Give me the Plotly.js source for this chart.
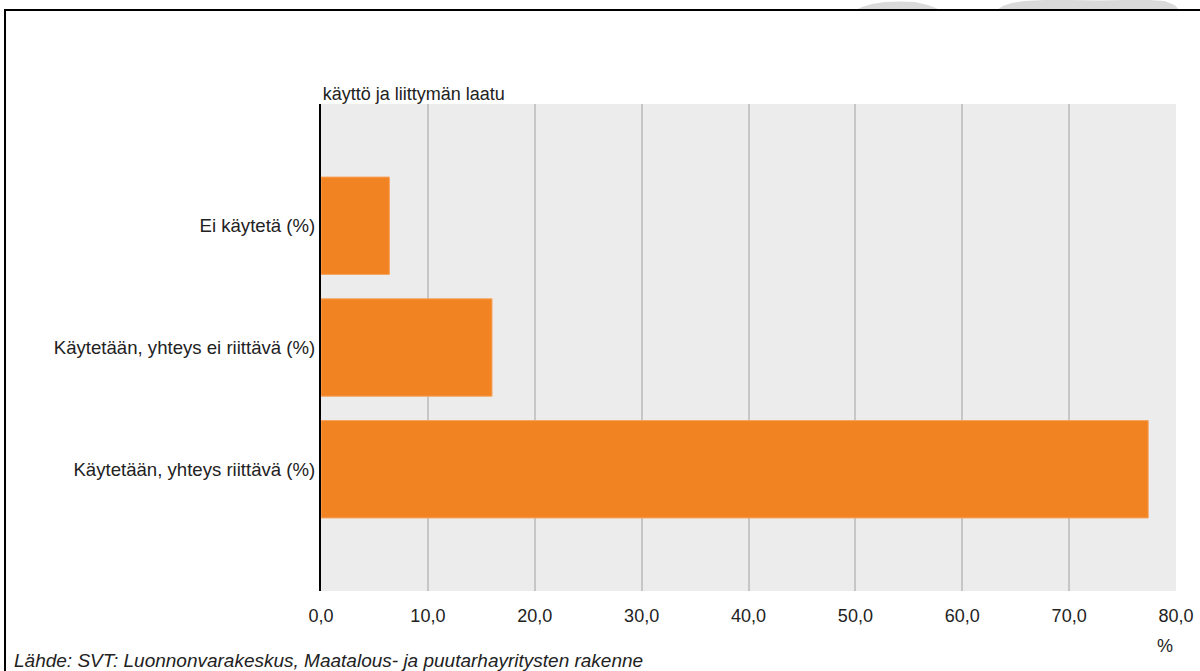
<!DOCTYPE html>
<html>
<head>
<meta charset="utf-8">
<script src="https://cdn.plot.ly/plotly-3.0.1.min.js"></script>
<style>
  html, body { margin: 0; padding: 0; background: #ffffff; overflow: hidden; }
  #wrap { position: relative; width: 1200px; height: 671px; overflow: hidden; }
  #chart { position: absolute; left: 0; top: 0; width: 1200px; height: 671px; }
  #frame { position: absolute; left: 4px; top: 9px; width: 1300px; height: 800px;
           border-top: 2px solid #000; border-left: 2px solid #000; pointer-events: none; }
</style>
</head>
<body>
<div id="wrap">
  <div id="chart"></div>
  <div id="frame"></div>
</div>
<script>
// Data
const categories = [
  "Käytetään, yhteys riittävä (%)",
  "Käytetään, yhteys ei riittävä (%)",
  "Ei käytetä (%)"
];
const values = [77.4, 16.0, 6.4];
const xTickValues = [0, 10, 20, 30, 40, 50, 60, 70, 80];
const chartTitle = "käyttö ja liittymän laatu";
const unitLabel = "%";
const sourceText = "Lähde: SVT: Luonnonvarakeskus, Maatalous- ja puutarhayritysten rakenne";

// Layout geometry (pixels)
const W = 1200, H = 671;
const M = { l: 320.5, r: 23.5, t: 104, b: 80 };
const plotW = W - M.l - M.r, plotH = H - M.t - M.b;
const px = x => (x - M.l) / plotW;           // pixel x -> paper x
const py = y => (H - M.b - y) / plotH;       // pixel y -> paper y

const FONT = "Liberation Sans, Arial, sans-serif";
const TXT = "#222222";

const trace = {
  type: "bar",
  orientation: "h",
  y: categories,
  x: values,
  marker: { color: "#f28322", line: { color: "#f6a460", width: 1 } },
  hoverinfo: "x+y"
};

function blobPath(pts) {
  let s = "M" + px(pts[0][0]) + "," + py(pts[0][1]);
  for (let i = 1; i < pts.length; i++) s += " L" + px(pts[i][0]) + "," + py(pts[i][1]);
  return s + " Z";
}
const blob1 = [[856,10],[862,7],[872,4],[885,2],[900,1.5],[915,2],[928,5],[936,8],[940,10]];
const blob2 = [[997,10],[1003,6],[1012,3],[1025,1],[1045,0],[1070,0],[1100,0.5],[1125,0],[1150,0],[1165,1],[1175,5],[1180,10]];

const layout = {
  width: W, height: H,
  margin: M,
  paper_bgcolor: "#ffffff",
  plot_bgcolor: "#ececec",
  separators: ", ",
  showlegend: false,
  bargap: 0.2,
  font: { family: FONT, size: 18, color: TXT },
  title: {
    text: chartTitle,
    font: { family: FONT, size: 18, color: TXT },
    xref: "paper", x: 0.002, xanchor: "left",
    yref: "paper", y: 1, yanchor: "bottom",
    pad: { b: 4 }
  },
  xaxis: {
    range: [0, 80],
    tickvals: xTickValues,
    tickformat: ".1f",
    showgrid: true,
    gridcolor: "#c6c6c6",
    gridwidth: 2,
    zeroline: false,
    showline: false,
    ticks: "outside",
    ticklen: 8,
    tickcolor: "rgba(0,0,0,0)",
    tickfont: { family: FONT, size: 18, color: TXT },
    fixedrange: true
  },
  yaxis: {
    type: "category",
    range: [-1, 3],
    showgrid: false,
    zeroline: false,
    showline: true,
    linecolor: "#000000",
    linewidth: 2,
    ticks: "",
    tickfont: { family: FONT, size: 18.6, color: TXT },
    fixedrange: true
  },
  annotations: [
    {
      text: unitLabel, xref: "paper", yref: "paper",
      x: px(1165), y: py(646), xanchor: "center", yanchor: "middle",
      showarrow: false, font: { family: FONT, size: 18, color: TXT }
    },
    {
      text: "<i>" + sourceText + "</i>", xref: "paper", yref: "paper",
      x: px(11), y: py(660), xanchor: "left", yanchor: "middle",
      showarrow: false, font: { family: FONT, size: 19, color: TXT }
    }
  ],
  shapes: [
    {
      type: "path", xref: "paper", yref: "paper", path: blobPath(blob1),
      fillcolor: "#dadada", line: { width: 0 }, layer: "below"
    },
    {
      type: "path", xref: "paper", yref: "paper", path: blobPath(blob2),
      fillcolor: "#dadada", line: { width: 0 }, layer: "below"
    }
  ]
};

Plotly.newPlot("chart", [trace], layout, { displayModeBar: false, staticPlot: true });
</script>
</body>
</html>
